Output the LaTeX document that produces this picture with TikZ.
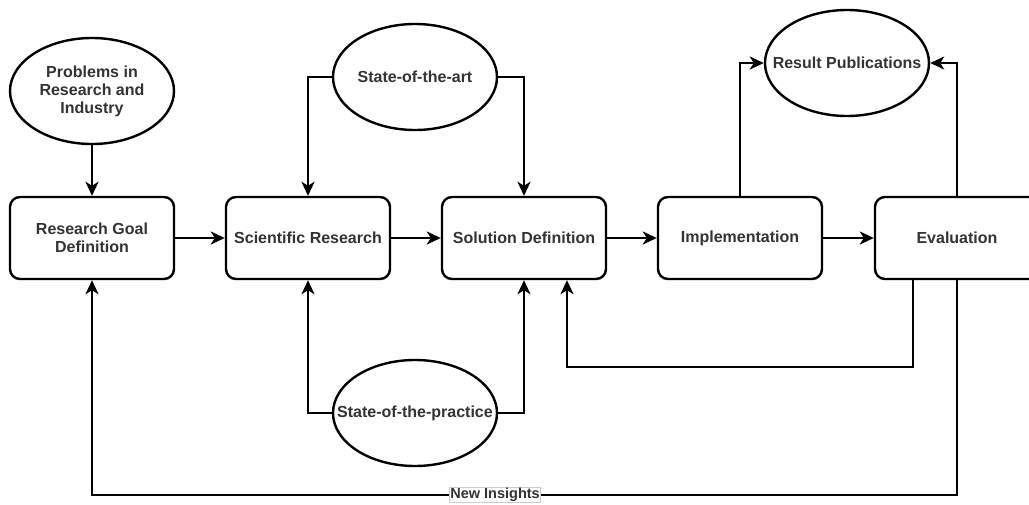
\documentclass[tikz,border=0pt]{standalone}
\usepackage{fontspec}
\setmainfont{Liberation Sans}
\usetikzlibrary{shapes.geometric,arrows.meta}
\definecolor{txt}{HTML}{333333}
\tikzset{
  base/.style={draw=black, line width=2.4pt, fill=white, text=txt,
    font=\fontsize{16}{18}\selectfont\bfseries, align=center, inner sep=0pt},
  stepbox/.style={base, rounded corners=10pt, minimum width=164pt, minimum height=82pt},
  % negative side padding keeps every oval at its fixed size
  oval/.style={base, ellipse, inner xsep=-40pt, inner ysep=-10pt,
    minimum width=164pt, minimum height=106pt},
  arr/.style={line width=2.4pt, -{Stealth[length=14pt,width=13pt,inset=4pt]}},
  lbl/.style={fill=white, draw=black!20, line width=0.6pt, text=txt,
    font=\fontsize{14.5}{16}\selectfont\bfseries, inner sep=0.8pt}
}
\begin{document}
\begin{tikzpicture}[x=1pt,y=-1pt]
\useasboundingbox (0,0) rectangle (1029,504);
\clip (0,0) rectangle (1029,504);

% process steps
\node[stepbox] (rgd)  at (92,238)  {Research Goal\\Definition};
\node[stepbox] (sr)   at (308,238) {Scientific Research};
\node[stepbox] (sd)   at (524,238) {Solution Definition};
\node[stepbox] (impl) at (740,238) {Implementation};
\node[stepbox] (eval) at (957,238) {Evaluation};

% inputs and outputs
\node[oval] (prob) at (92,91)   {Problems in\\Research and\\Industry};
\node[oval] (sota) at (415,77)  {State-of-the-art};
\node[oval] (rp)   at (847,63)  {Result Publications};
\node[oval] (sotp) at (415,413) {State-of-the-practice};

% main flow
\draw[arr] (prob) -- (rgd);
\draw[arr] (rgd) -- (sr);
\draw[arr] (sr) -- (sd);
\draw[arr] (sd) -- (impl);
\draw[arr] (impl) -- (eval);

% literature and practice inputs
\draw[arr] (sota.west) -| (sr.north);
\draw[arr] (sota.east) -| (sd.north);
\draw[arr] (sotp.west) -| (sr.south);
\draw[arr] (sotp.east) -| (sd.south);

% publishing results
\draw[arr] (impl.north) |- (rp.west);
\draw[arr] (eval.north) |- (rp.east);

% feedback loops
\draw[arr] ([xshift=-44pt]eval.south) -- ++(0,87) -| ([xshift=43pt]sd.south);
\draw[arr] (eval.south) -- ++(0,215) -| node[lbl, pos=0.267] (ni) {New Insights} (rgd.south);
\end{tikzpicture}
\end{document}
